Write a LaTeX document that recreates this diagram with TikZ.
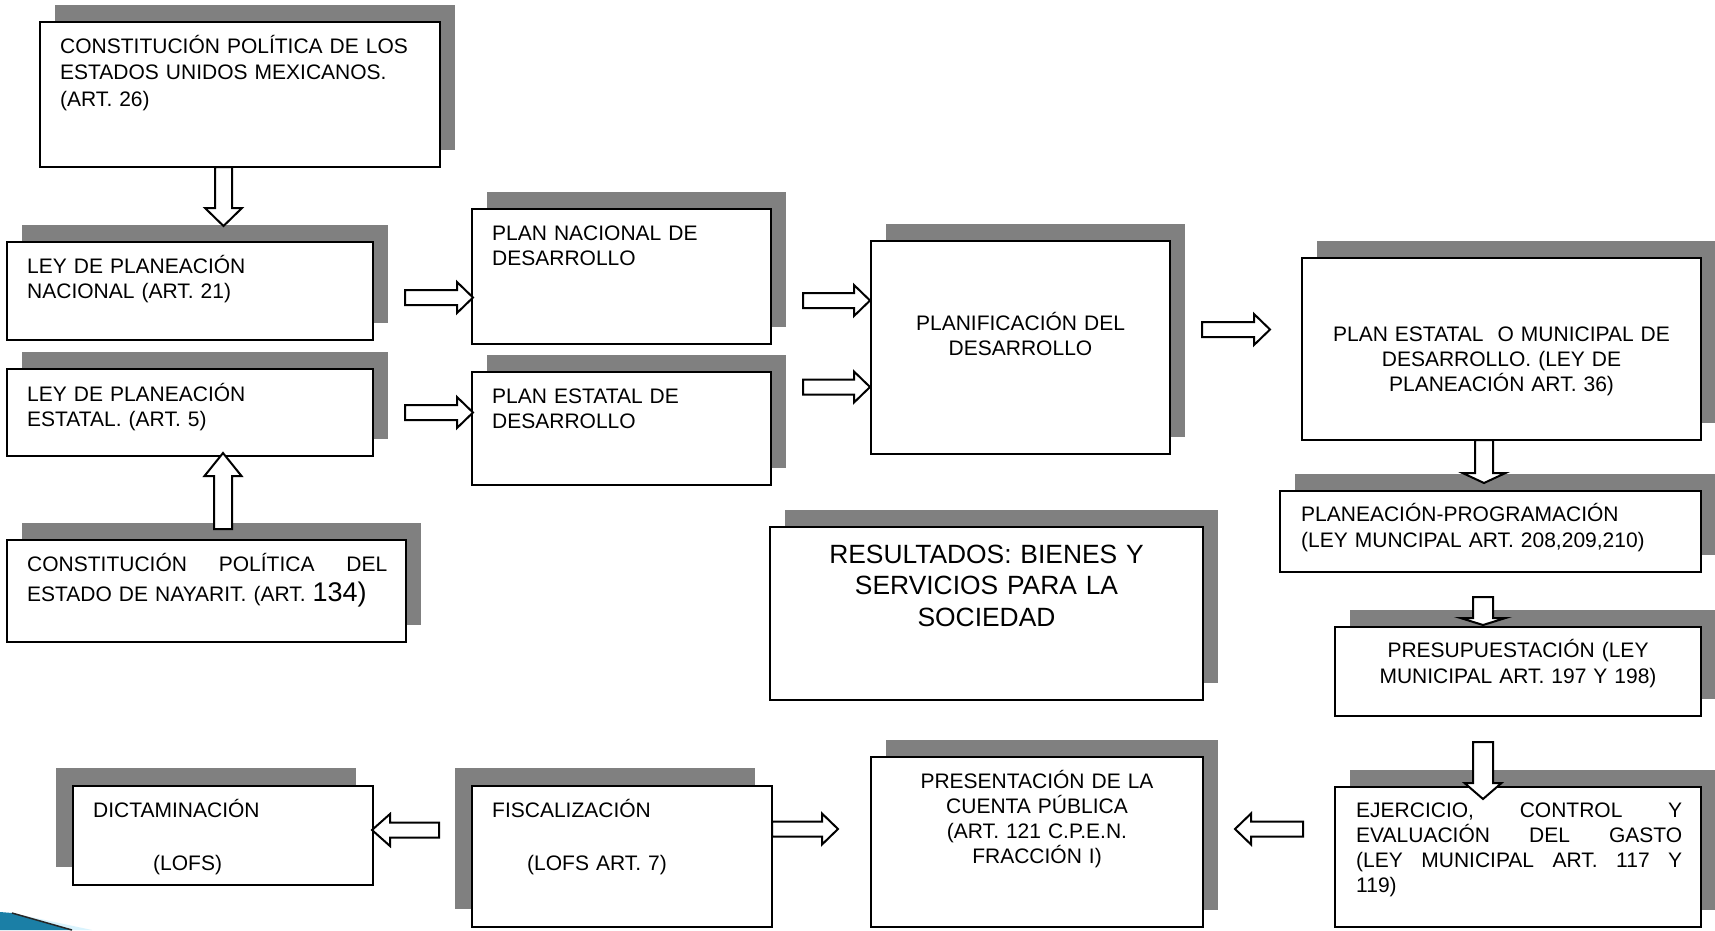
\documentclass[tikz,border=0pt]{standalone}
\usepackage{fontspec}
\setmainfont{Liberation Sans}
\usetikzlibrary{calc,shadows}
\definecolor{shadowgray}{HTML}{808080}
\definecolor{tealblue}{HTML}{1B7FA6}
\newcommand\drawbox[6][]{%
  \pgfmathsetmacro\mybw{#5-#3}%
  \pgfmathsetmacro\mybh{#6-#4}%
  \node[box,#1,minimum width=\mybw pt,minimum height=\mybh pt,anchor=north west] (#2) at (#3,#4) {};}
\tikzset{
  box/.style={draw=black, line width=2.2pt, fill=white, rectangle, inner sep=0pt, outer sep=0pt},
  rshadow/.style={general shadow={fill=shadowgray, shadow xshift=15pt, shadow yshift=17pt}},
  lshadow/.style={general shadow={fill=shadowgray, shadow xshift=-17pt, shadow yshift=18pt}},
  txt/.style={inner sep=0pt, font=\fontsize{21}{25.5}\selectfont, anchor=base west, align=left},
  ctxt/.style={inner sep=0pt, font=\fontsize{21}{25}\selectfont, anchor=base, align=center},
  blockarrow/.style n args={3}{draw=black, fill=white, line width=2pt, line join=miter,
    to path={
      ($(\tikztostart)!#1!90:(\tikztotarget)$)
      -- ($(\tikztotarget)!#3!(\tikztostart)!#1!90:(\tikztotarget)$)
      -- ($(\tikztotarget)!#3!(\tikztostart)!#2!90:(\tikztotarget)$)
      -- (\tikztotarget)
      -- ($(\tikztotarget)!#3!(\tikztostart)!#2!-90:(\tikztotarget)$)
      -- ($(\tikztotarget)!#3!(\tikztostart)!#1!-90:(\tikztotarget)$)
      -- ($(\tikztostart)!#1!-90:(\tikztotarget)$)
      -- cycle}},
  harrow/.style={blockarrow={7.5pt}{15.5pt}{16pt}}
}
\begin{document}
\begin{tikzpicture}[x=1pt,y=-1pt]
\useasboundingbox (0,0) rectangle (1715,930);
\fill[white] (0,0) rectangle (1715,930);

% boxes
\drawbox[rshadow]{cmex}{40}{22}{440}{167}
\drawbox[rshadow]{leynac}{7}{242}{373}{340}
\drawbox[rshadow]{leyest}{7}{369}{373}{456}
\drawbox[rshadow]{cnay}{7}{540}{406}{642}
\drawbox[rshadow]{plannac}{472}{209}{771}{344}
\drawbox[rshadow]{planest}{472}{372}{771}{485}
\drawbox[rshadow]{planif}{871}{241}{1170}{454}
\drawbox[rshadow]{estmun}{1302}{258}{1701}{440}
\drawbox[rshadow]{planprog}{1280}{491}{1701}{572}
\drawbox[rshadow]{presup}{1335}{627}{1701}{716}
\drawbox[rshadow]{ejerc}{1335}{787}{1701}{927}
\drawbox[rshadow]{result}{770}{527}{1203}{700}
\drawbox[rshadow]{present}{871}{757}{1203}{927}
\drawbox[lshadow]{fiscal}{472}{786}{772}{927}
\drawbox[lshadow]{dictam}{73}{786}{373}{885}

% arrow end points
\coordinate (a1s) at (223.5,167);  \coordinate (a1e) at (223.5,226);
\coordinate (a2s) at (405,297.5);  \coordinate (a2e) at (473,297.5);
\coordinate (a3s) at (405,412.5);  \coordinate (a3e) at (473,412.5);
\coordinate (a4s) at (223,529);    \coordinate (a4e) at (223,453);
\coordinate (a5s) at (803,300.5);  \coordinate (a5e) at (870,300.5);
\coordinate (a6s) at (803,387);    \coordinate (a6e) at (870,387);
\coordinate (a7s) at (1202,329.5); \coordinate (a7e) at (1270,329.5);
\coordinate (a8s) at (1484,440);   \coordinate (a8e) at (1484,483);
\coordinate (a9s) at (1483,597);   \coordinate (a9e) at (1483,625);
\coordinate (a10s) at (1483,742);  \coordinate (a10e) at (1483,799);
\coordinate (a11s) at (1303,829);  \coordinate (a11e) at (1235,829);
\coordinate (a12s) at (772,829);   \coordinate (a12e) at (838,829);
\coordinate (a13s) at (439,830);   \coordinate (a13e) at (372,830);

\draw[blockarrow={8.5pt}{18.5pt}{18pt}] (a1s) to (a1e);
\draw[harrow] (a2s) to (a2e);
\draw[harrow] (a3s) to (a3e);
\draw[blockarrow={9pt}{18.5pt}{23pt}] (a4s) to (a4e);
\draw[harrow] (a5s) to (a5e);
\draw[harrow] (a6s) to (a6e);
\draw[harrow] (a7s) to (a7e);
\draw[blockarrow={9pt}{21.5pt}{10pt}] (a8s) to (a8e);
\draw[blockarrow={10pt}{22.5pt}{7pt}] (a9s) to (a9e);
\draw[blockarrow={10pt}{18.5pt}{16pt}] (a10s) to (a10e);
\draw[harrow] (a11s) to (a11e);
\draw[harrow] (a12s) to (a12e);
\draw[blockarrow={7.5pt}{16pt}{18pt}] (a13s) to (a13e);

% texts
\node[txt, text width=380pt, font=\fontsize{21}{26.5}\selectfont] (tcmex) at (60,53)
  {CONSTITUCIÓN POLÍTICA DE LOS\\ESTADOS UNIDOS MEXICANOS.\\(ART. 26)};
\node[txt, text width=340pt] (tleynac) at (27,273) {LEY DE PLANEACIÓN\\NACIONAL (ART. 21)};
\node[txt, text width=340pt] (tleyest) at (27,401) {LEY DE PLANEACIÓN\\ESTATAL. (ART. 5)};
\node[txt, text width=360pt] (tcnay) at (27,571)
  {\makebox[360pt][l]{CONSTITUCIÓN\hfill POLÍTICA\hfill DEL}\\[4.5pt]ESTADO DE NAYARIT. (ART. {\fontsize{27}{27}\selectfont 134)}};
\node[txt, text width=270pt] (tplannac) at (492,240) {PLAN NACIONAL DE\\DESARROLLO};
\node[txt, text width=270pt] (tplanest) at (492,403) {PLAN ESTATAL DE\\DESARROLLO};
\node[ctxt, text width=290pt] (tplanif) at (1020.5,330) {PLANIFICACIÓN DEL\\DESARROLLO};
\node[ctxt, text width=390pt] (testmun) at (1501.5,341)
  {PLAN ESTATAL\ \ O MUNICIPAL DE\\DESARROLLO. (LEY DE\\PLANEACIÓN ART. 36)};
\node[txt, text width=400pt, font=\fontsize{21}{26}\selectfont] (tplanprog) at (1301,521)
  {PLANEACIÓN-PROGRAMACIÓN\\(LEY MUNCIPAL ART. 208,209,210)};
\node[ctxt, text width=360pt, font=\fontsize{21}{26}\selectfont] (tpresup) at (1518,657)
  {PRESUPUESTACIÓN (LEY\\MUNICIPAL ART. 197 Y 198)};
\node[txt, text width=326pt, font=\fontsize{21}{25}\selectfont] (tejerc) at (1356,817)
  {\makebox[326pt][l]{EJERCICIO,\hfill CONTROL\hfill Y}\\\makebox[326pt][l]{EVALUACIÓN\hfill DEL\hfill GASTO}\\\makebox[326pt][l]{(LEY\hfill MUNICIPAL\hfill ART.\hfill 117\hfill Y}\\119)};
\node[ctxt, text width=420pt, font=\fontsize{26.4}{31.7}\selectfont] (tresult) at (986.5,563)
  {RESULTADOS: BIENES Y\\SERVICIOS PARA LA\\SOCIEDAD};
\node[ctxt, text width=320pt] (tpresent) at (1037,788)
  {PRESENTACIÓN DE LA\\CUENTA PÚBLICA\\(ART. 121 C.P.E.N.\\FRACCIÓN I)};
\node[txt, text width=270pt] (tfiscal) at (492,817)
  {FISCALIZACIÓN\\[27.5pt]\hspace*{35pt}(LOFS ART. 7)};
\node[txt, text width=270pt] (tdictam) at (93,817)
  {DICTAMINACIÓN\\[27.5pt]\hspace*{60pt}(LOFS)};

% corner decoration
\fill[cyan!15] (12,913) -- (92,930) -- (72,930) -- cycle;
\fill[tealblue] (0,912) -- (12,913) -- (72,930) -- (0,930) -- cycle;
\draw[line width=1.5pt, black!85] (12,913) -- (72,930);
\end{tikzpicture}
\end{document}
